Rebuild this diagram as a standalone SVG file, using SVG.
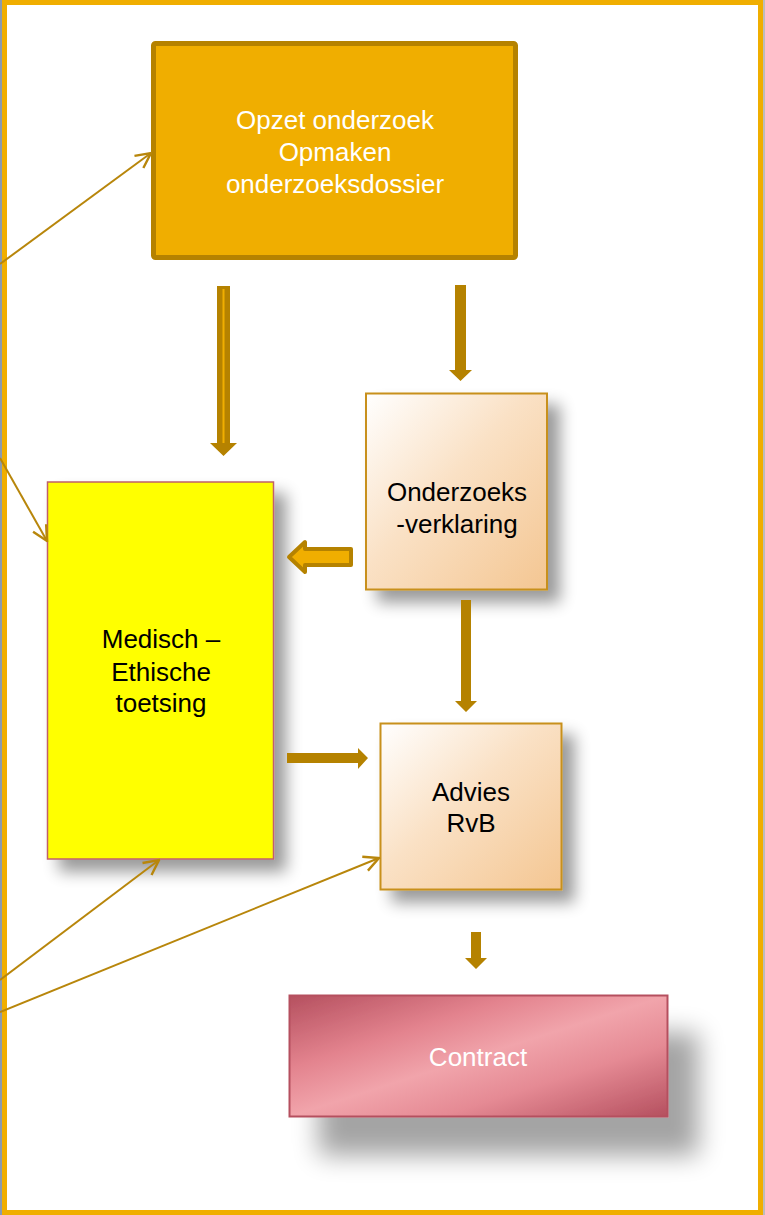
<svg xmlns="http://www.w3.org/2000/svg" width="765" height="1215" viewBox="0 0 765 1215">
  <defs>
    <style>
      .lbl { font-family: "Liberation Sans", Arial, sans-serif; font-size: 26px; text-anchor: middle; }
      .white { fill: #FFFFFF; }
      .black { fill: #000000; }
      .thin { stroke: #B8860B; stroke-width: 2; fill: none; }
      .block { fill: #B58200; stroke: none; }
    </style>
    <linearGradient id="peach" x1="0" y1="0" x2="1" y2="1">
      <stop offset="0" stop-color="#FFFFFF"/>
      <stop offset="0.45" stop-color="#FAE1C5"/>
      <stop offset="1" stop-color="#F4C692"/>
    </linearGradient>
    <linearGradient id="rose" x1="0" y1="0" x2="1" y2="1">
      <stop offset="0" stop-color="#B5505F"/>
      <stop offset="0.3" stop-color="#E3838E"/>
      <stop offset="0.5" stop-color="#F1A4AB"/>
      <stop offset="0.7" stop-color="#E58A94"/>
      <stop offset="1" stop-color="#B5505F"/>
    </linearGradient>
    <filter id="shadow" x="-20%" y="-20%" width="160%" height="160%">
      <feGaussianBlur in="SourceAlpha" stdDeviation="8"/>
      <feOffset dx="12" dy="12" result="b"/>
      <feComponentTransfer><feFuncA type="linear" slope="0.4"/></feComponentTransfer>
      <feMerge><feMergeNode/><feMergeNode in="SourceGraphic"/></feMerge>
    </filter>
    <filter id="shadowBig" x="-20%" y="-40%" width="160%" height="200%">
      <feGaussianBlur in="SourceAlpha" stdDeviation="13"/>
      <feOffset dx="30" dy="38" result="b"/>
      <feComponentTransfer><feFuncA type="linear" slope="0.36"/></feComponentTransfer>
      <feMerge><feMergeNode/><feMergeNode in="SourceGraphic"/></feMerge>
    </filter>
    <marker id="open" markerUnits="userSpaceOnUse" markerWidth="18" markerHeight="18" viewBox="0 0 12 12" refX="11" refY="6" orient="auto">
      <path d="M1,1 L11,6 L1,11" fill="none" stroke="#B8860B" stroke-width="1.6"/>
    </marker>
  </defs>

  <rect x="0" y="0" width="765" height="1215" fill="#FFFFFF"/>
  <!-- outer frame -->
  <line x1="1" y1="0" x2="1" y2="1215" stroke="#8A9AB0" stroke-width="2"/>
  <rect x="4.5" y="2.5" width="756" height="1210" fill="none" stroke="#F0AE00" stroke-width="5"/>
  <line x1="764" y1="0" x2="764" y2="1215" stroke="#7A7A7A" stroke-width="1"/>

  <g id="node-opzet">
    <rect x="153.5" y="43.5" width="362" height="214" rx="2" fill="#F0AE00" stroke="#B58200" stroke-width="5"/>
    <text class="lbl white" x="335" y="129">Opzet onderzoek</text>
    <text class="lbl white" x="335" y="161">Opmaken</text>
    <text class="lbl white" x="335" y="193">onderzoeksdossier</text>
  </g>

  <g id="node-onderzoeksverklaring">
    <rect x="366" y="393.5" width="181" height="196" fill="url(#peach)" stroke="#C8901C" stroke-width="2" filter="url(#shadow)"/>
    <text class="lbl black" x="457" y="501">Onderzoeks</text>
    <text class="lbl black" x="457" y="533">-verklaring</text>
  </g>

  <g id="node-medisch">
    <rect x="47.5" y="482" width="226" height="377" fill="#FFFF00" stroke="#C0606A" stroke-width="1.5" filter="url(#shadow)"/>
    <text class="lbl black" x="161" y="648">Medisch –</text>
    <text class="lbl black" x="161" y="681">Ethische</text>
    <text class="lbl black" x="161" y="712">toetsing</text>
  </g>

  <g id="node-advies">
    <rect x="380.5" y="723.5" width="181" height="166" fill="url(#peach)" stroke="#C8901C" stroke-width="2" filter="url(#shadow)"/>
    <text class="lbl black" x="471" y="801">Advies</text>
    <text class="lbl black" x="471" y="832">RvB</text>
  </g>

  <g id="node-contract">
    <rect x="289.5" y="995.5" width="378" height="121" fill="url(#rose)" stroke="#B5505F" stroke-width="2" filter="url(#shadowBig)"/>
    <text class="lbl white" x="478" y="1066">Contract</text>
  </g>

  <g id="connectors">
    <!-- compound arrow opzet -> medisch -->
    <polygon class="block" points="217,286 230,286 230,443 237,443 223.5,456 210,443 217,443"/>
    <line x1="223.5" y1="289" x2="223.5" y2="443" stroke="#F0AE00" stroke-width="2"/>
    <!-- opzet -> onderzoeksverklaring -->
    <polygon class="block" points="455,285 466,285 466,370 472,370 460.5,381 449,370 455,370"/>
    <!-- onderzoeksverklaring -> medisch (block arrow) -->
    <path d="M351,549 L351,565 L305,565 L305,572 L289,557 L305,542 L305,549 Z" fill="#F0AE00" stroke="#B58200" stroke-width="4" stroke-linejoin="round"/>
    <!-- onderzoeksverklaring -> advies -->
    <polygon class="block" points="461,600 471,600 471,701 477,701 466,712 455,701 461,701"/>
    <!-- medisch -> advies -->
    <polygon class="block" points="287,753 358,753 358,748 368,758 358,769 358,763 287,763"/>
    <!-- advies -> contract -->
    <polygon class="block" points="471,932 481,932 481,958 487,958 476,969 465,958 471,958"/>
    <!-- thin incoming lines -->
    <line class="thin" x1="0" y1="264" x2="151" y2="153" marker-end="url(#open)"/>
    <line class="thin" x1="0" y1="458" x2="47" y2="541" marker-end="url(#open)"/>
    <line class="thin" x1="0" y1="980" x2="159" y2="860" marker-end="url(#open)"/>
    <line class="thin" x1="0" y1="1012" x2="379" y2="858" marker-end="url(#open)"/>
  </g>
</svg>
